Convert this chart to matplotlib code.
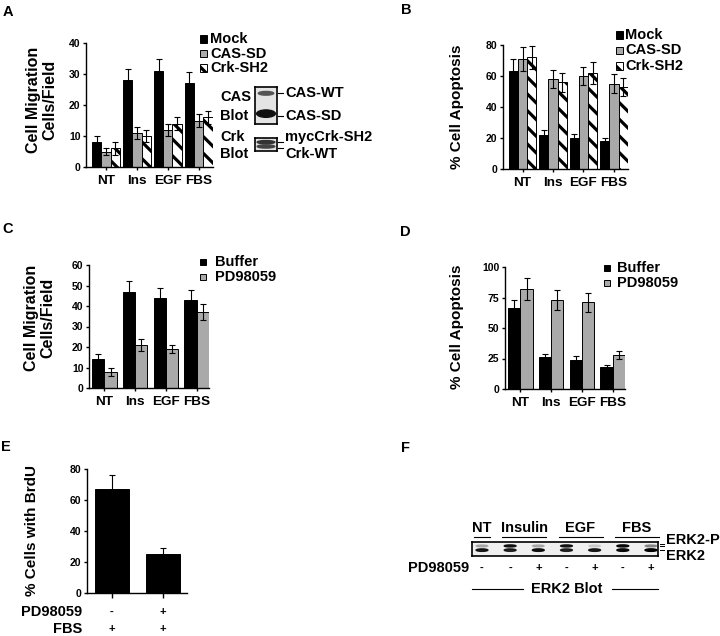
import matplotlib
matplotlib.use('Agg')
import matplotlib.pyplot as plt
import matplotlib.transforms as mtransforms
from matplotlib.patches import Rectangle, Ellipse
import numpy as np

plt.rcParams['font.family'] = ['Liberation Sans', 'DejaVu Sans']
plt.rcParams['font.weight'] = 'bold'
plt.rcParams['hatch.linewidth'] = 2.3
plt.rcParams['axes.linewidth'] = 1.0

# ---- data ----
groups = ['NT', 'Ins', 'EGF', 'FBS']

# A: migration, Mock / CAS-SD / Crk-SH2
a_mock = [8, 28, 31, 27]
a_mock_err = [2, 3.5, 4, 3.5]
a_cas = [5, 11, 12, 15]
a_cas_err = [1, 2, 2, 2]
a_crk = [6, 10, 14, 16]
a_crk_err = [2, 2, 2, 2]

# B: apoptosis, Mock / CAS-SD / Crk-SH2
b_mock = [63, 22, 20, 18]
b_mock_err = [8, 3, 2.5, 2]
b_cas = [71, 58, 60, 55]
b_cas_err = [7.5, 6, 6, 6]
b_crk = [72, 56, 62, 53]
b_crk_err = [7.5, 6, 7, 6]

# C: migration, Buffer / PD98059
c_buffer = [14, 47, 44, 43]
c_buffer_err = [2.4, 5.4, 5, 5]
c_pd = [8, 21, 19, 37]
c_pd_err = [2, 3, 2, 4]

# D: apoptosis, Buffer / PD98059
d_buffer = [66, 26, 24, 18]
d_buffer_err = [7, 3, 3, 2]
d_pd = [82, 73, 71, 28]
d_pd_err = [9, 8, 8, 3]

# E: BrdU incorporation
e_vals = [67, 25]
e_err = [9, 4]
e_pd = ['-', '+']
e_fbs = ['+', '+']

# F: ERK2 blot (band intensity 0-1 per lane)
f_groups = ['NT', 'Insulin', 'EGF', 'FBS']
f_group_lanes = [(0, 0), (1, 2), (3, 4), (5, 6)]
f_pd = ['-', '-', '+', '-', '+', '-', '+']
f_upper = [0.2, 0.85, 0.2, 0.85, 0.1, 0.95, 0.3]
f_lower = [0.85, 0.8, 0.9, 0.8, 0.85, 0.95, 1.0]

GRAY = '#a9a9a9'
HATCH = '\\\\'
W, H = 720, 636
fig = plt.figure(figsize=(7.2, 6.36), dpi=100)


def add_ax(x0, y0, x1, y1):
    # pixel box (top-left origin) -> figure axes
    return fig.add_axes([x0 / W, 1 - y1 / H, (x1 - x0) / W, (y1 - y0) / H])


def ftext(x, y, s, **kw):
    kw.setdefault('fontsize', 10.5)
    kw.setdefault('fontweight', 'bold')
    fig.text(x / W, 1 - y / H, s, **kw)


def style(ax, ymax, yticks):
    ax.set_ylim(0, ymax)
    ax.set_yticks(yticks)
    for s in ['top', 'right']:
        ax.spines[s].set_visible(False)
    ax.tick_params(axis='y', length=2.5, width=1, labelsize=7.5, pad=1.5)
    ax.tick_params(axis='x', length=2.5, width=1, labelsize=9.7, pad=3)
    for lab in ax.get_yticklabels() + ax.get_xticklabels():
        lab.set_fontweight('bold')


def bars(ax, x, vals, errs, **kw):
    ax.bar(x, vals, edgecolor='black', linewidth=0.7, **kw)
    ax.errorbar(x, vals, yerr=errs, fmt='none', ecolor='black',
                elinewidth=0.8, capsize=2.5, capthick=0.8)


def legend_box(x, y, size, **kw):
    fig.add_artist(Rectangle(((x) / W, 1 - (y + size / 2) / H), size / W, size / H,
                             transform=fig.transFigure, edgecolor='black',
                             linewidth=0.7, **kw))


x = np.arange(len(groups))

# ---------- A ----------
axA = add_ax(86, 43, 213, 167)
w = 0.3
bars(axA, x - w, a_mock, a_mock_err, width=w, color='black')
bars(axA, x, a_cas, a_cas_err, width=w, color=GRAY)
bars(axA, x + w, a_crk, a_crk_err, width=w, color='white', hatch=HATCH)
axA.set_xlim(-0.645, 3.46)
axA.set_xticks(x, groups)
style(axA, 40, [0, 10, 20, 30, 40])
ftext(42, 100, 'Cell Migration\nCells/Field', rotation=90, ha='center',
      va='center', fontsize=11.5, multialignment='center', linespacing=1.1)
for i, (lab, kw) in enumerate(zip(['Mock', 'CAS-SD', 'Crk-SH2'],
                                  [dict(facecolor='black'), dict(facecolor=GRAY),
                                   dict(facecolor='white', hatch=HATCH)])):
    legend_box(200, 39 + 14.5 * i, 7, **kw)
    ftext(210, 39 + 14.5 * i, lab, va='center')

# blots in A
axCas = add_ax(255, 87, 277, 124)
axCrk = add_ax(255, 138, 277, 151)
for bax in (axCas, axCrk):
    bax.set_facecolor('#e4e4e4')
    bax.set_xlim(0, 1)
    bax.set_ylim(0, 1)
    bax.set_xticks([])
    bax.set_yticks([])
    for s in bax.spines.values():
        s.set_linewidth(1.2)
axCas.add_patch(Ellipse((0.5, 0.83), 0.7, 0.1, color='#555555'))
axCas.add_patch(Ellipse((0.5, 0.28), 0.85, 0.2, color='#111111'))
axCrk.add_patch(Ellipse((0.5, 0.68), 0.8, 0.25, color='#333333'))
axCrk.add_patch(Ellipse((0.5, 0.35), 0.8, 0.25, color='#444444'))
ftext(220, 97, 'CAS', va='center')
ftext(220, 116, 'Blot', va='center')
ftext(220, 137, 'Crk', va='center')
ftext(220, 154, 'Blot', va='center')
for yy, lab, ly in [(93, 'CAS-WT', 93), (116, 'CAS-SD', 116),
                    (137, 'mycCrk-SH2', 142), (154, 'Crk-WT', 148)]:
    fig.add_artist(plt.Line2D([278 / W, 283 / W], [1 - ly / H, 1 - ly / H],
                              color='black', linewidth=0.8))
    ftext(285, yy, lab, va='center')
ftext(8, 12, 'A', ha='center', va='center')

# ---------- B ----------
axB = add_ax(503, 45, 628, 169)
bars(axB, x - w, b_mock, b_mock_err, width=w, color='black')
bars(axB, x, b_cas, b_cas_err, width=w, color=GRAY)
bars(axB, x + w, b_crk, b_crk_err, width=w, color='white', hatch=HATCH)
axB.set_xlim(-0.64, 3.46)
axB.set_xticks(x, groups)
style(axB, 80, [0, 20, 40, 60, 80])
ftext(457, 107, '% Cell Apoptosis', rotation=90, ha='center', va='center',
      fontsize=11)
for i, (lab, kw) in enumerate(zip(['Mock', 'CAS-SD', 'Crk-SH2'],
                                  [dict(facecolor='black'), dict(facecolor=GRAY),
                                   dict(facecolor='white', hatch=HATCH)])):
    legend_box(616, 35 + 15.5 * i, 7, **kw)
    ftext(625, 35 + 15.5 * i, lab, va='center')
ftext(406, 10, 'B', ha='center', va='center')

# ---------- C ----------
w2 = 0.4
axC = add_ax(89, 265, 209, 388)
bars(axC, x - w2 / 2, c_buffer, c_buffer_err, width=w2, color='black')
bars(axC, x + w2 / 2, c_pd, c_pd_err, width=w2, color=GRAY)
axC.set_xlim(-0.5, 3.4)
axC.set_xticks(x, groups)
style(axC, 60, [0, 10, 20, 30, 40, 50, 60])
ftext(40, 318, 'Cell Migration\nCells/Field', rotation=90, ha='center',
      va='center', fontsize=11.5, multialignment='center', linespacing=1.1)
legend_box(200, 262, 6, facecolor='black')
legend_box(200, 277, 6, facecolor=GRAY)
ftext(215, 262, 'Buffer', va='center')
ftext(215, 277, 'PD98059', va='center')
ftext(8, 229, 'C', ha='center', va='center')

# ---------- D ----------
axD = add_ax(505, 267, 625, 389)
bars(axD, x - w2 / 2, d_buffer, d_buffer_err, width=w2, color='black')
bars(axD, x + w2 / 2, d_pd, d_pd_err, width=w2, color=GRAY)
axD.set_xlim(-0.5, 3.4)
axD.set_xticks(x, groups)
style(axD, 100, [0, 25, 50, 75, 100])
ftext(457, 327, '% Cell Apoptosis', rotation=90, ha='center', va='center',
      fontsize=11)
legend_box(604, 268, 6, facecolor='black')
legend_box(604, 283, 6, facecolor=GRAY)
ftext(617, 268, 'Buffer', va='center')
ftext(617, 283, 'PD98059', va='center')
ftext(405, 232, 'D', ha='center', va='center')

# ---------- E ----------
xe = np.arange(len(e_vals))
axE = add_ax(87, 469, 187, 593)
bars(axE, xe, e_vals, e_err, width=0.65, color='black')
axE.set_xlim(-0.49, 1.47)
axE.set_xticks(xe, ['', ''])
style(axE, 80, [0, 20, 40, 60, 80])
axE.tick_params(axis='x', length=3.5)
ftext(32, 531, '% Cells with BrdU', rotation=90, ha='center', va='center',
      fontsize=11)
transE = mtransforms.blended_transform_factory(axE.transData, axE.transAxes)
axE.text(-0.59, -0.153, 'PD98059', transform=transE, ha='right', va='center',
         fontsize=10.5, fontweight='bold')
axE.text(-0.59, -0.29, 'FBS', transform=transE, ha='right', va='center',
         fontsize=10.5, fontweight='bold')
for i in xe:
    axE.text(i, -0.153, e_pd[i], transform=transE, ha='center', va='center',
             fontsize=8, fontweight='bold')
    axE.text(i, -0.29, e_fbs[i], transform=transE, ha='center', va='center',
             fontsize=8, fontweight='bold')
ftext(6, 447, 'E', ha='center', va='center')

# ---------- F ----------
axF = add_ax(472, 542, 658, 556)
axF.set_facecolor('#efefef')
axF.set_xlim(-0.355, 6.25)
axF.set_ylim(0, 1)
axF.set_xticks([])
axF.set_yticks([])
for s in axF.spines.values():
    s.set_linewidth(1.2)
for i in range(len(f_pd)):
    axF.add_patch(Ellipse((i, 0.72), 0.42, 0.15, color='black', alpha=f_upper[i]))
    axF.add_patch(Ellipse((i, 0.42), 0.42, 0.18, color='black', alpha=f_lower[i]))
transF = mtransforms.blended_transform_factory(axF.transData, axF.transAxes)
for lab, (l0, l1) in zip(f_groups, f_group_lanes):
    axF.text((l0 + l1) / 2, 2.0, lab, transform=transF, ha='center',
             va='center', fontsize=10.5, fontweight='bold')
    axF.plot([l0 - 0.28, l1 + 0.28], [1.35, 1.35], transform=transF,
             color='black', linewidth=0.8, clip_on=False)
for i, s in enumerate(f_pd):
    axF.text(i, -0.86, s, transform=transF, ha='center', va='center',
             fontsize=8, fontweight='bold')
axF.text(-0.46, -0.86, 'PD98059', transform=transF, ha='right', va='center',
         fontsize=10.5, fontweight='bold')
axF.text(3.0, -2.36, 'ERK2 Blot', transform=transF, ha='center', va='center',
         fontsize=10.5, fontweight='bold')
axF.plot([-0.355, 1.45], [-2.36, -2.36], transform=transF, color='black',
         linewidth=0.8, clip_on=False)
axF.plot([4.6, 6.25], [-2.36, -2.36], transform=transF, color='black',
         linewidth=0.8, clip_on=False)
for ly in [543.5, 546, 550]:
    fig.add_artist(plt.Line2D([660 / W, 664 / W], [1 - ly / H, 1 - ly / H],
                              color='black', linewidth=0.7))
ftext(666, 540, 'ERK2-P', va='center')
ftext(666, 556, 'ERK2', va='center')
ftext(405, 448, 'F', ha='center', va='center')

fig.savefig('out.png', dpi=100)
